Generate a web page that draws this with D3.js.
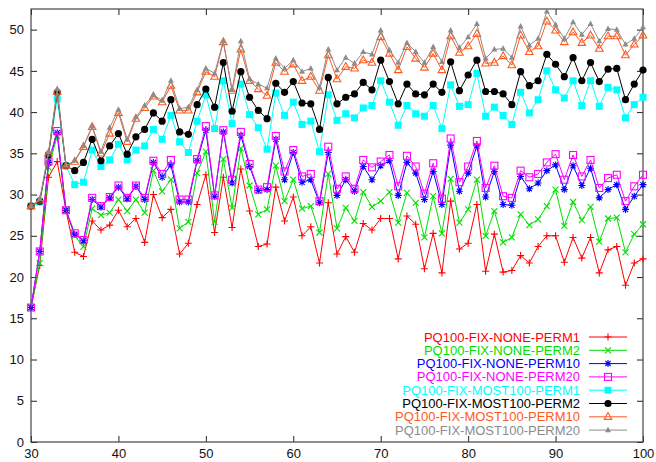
<!DOCTYPE html>
<html>
<head>
<meta charset="utf-8">
<script src="https://cdn.jsdelivr.net/npm/d3@7"></script>
<style>
  html, body { margin: 0; padding: 0; background: #fff; }
  svg { display: block; font-family: "Liberation Sans", Arial, sans-serif; }
  .axis text { font-size: 13px; fill: #111; }
  .axis line { stroke: #222; }
</style>
</head>
<body>
<div id="chart"></div>
<script>
// Eight permutation runs over x = 30..100, gnuplot-style linespoints.
const xs = [30, 31, 32, 33, 34, 35, 36, 37, 38, 39, 40, 41, 42, 43, 44, 45, 46, 47, 48, 49,
  50, 51, 52, 53, 54, 55, 56, 57, 58, 59, 60, 61, 62, 63, 64, 65, 66, 67, 68, 69,
  70, 71, 72, 73, 74, 75, 76, 77, 78, 79, 80, 81, 82, 83, 84, 85, 86, 87, 88, 89,
  90, 91, 92, 93, 94, 95, 96, 97, 98, 99, 100];

const noneP1 = [16.3, 21.4, 32.1, 34.0, 28.1, 23.0, 22.5, 26.8, 25.7, 26.3, 28.1, 26.1, 27.1, 24.2, 30.0, 27.2, 28.2, 22.8, 24.1, 28.8,
  32.4, 25.4, 32.1, 26.0, 33.1, 28.0, 23.7, 24.0, 30.9, 26.8, 29.7, 25.0, 26.1, 21.7, 29.0, 22.8, 24.9, 23.0, 26.5, 25.7,
  27.1, 27.1, 22.2, 27.4, 26.4, 21.0, 25.3, 20.5, 29.2, 23.4, 24.1, 28.8, 20.7, 25.2, 20.6, 20.8, 22.6, 21.7, 23.7, 25.0,
  25.0, 21.8, 24.8, 22.3, 24.8, 20.5, 23.3, 23.7, 19.0, 21.7, 22.2];
const noneP2 = [16.3, 21.7, 33.3, 37.1, 28.1, 25.0, 23.7, 28.3, 27.5, 27.8, 29.4, 28.0, 29.4, 27.8, 32.9, 30.4, 31.8, 25.9, 26.7, 32.6,
  35.2, 26.7, 34.3, 28.4, 35.6, 31.1, 27.6, 28.2, 33.5, 29.2, 31.8, 28.3, 28.6, 25.4, 32.5, 25.9, 28.4, 26.8, 30.3, 28.5,
  29.2, 30.3, 26.6, 30.2, 29.0, 24.8, 29.8, 25.3, 31.9, 26.6, 28.2, 31.8, 25.0, 28.0, 24.2, 24.8, 27.6, 26.3, 27.0, 28.6,
  30.6, 26.2, 29.1, 26.9, 28.5, 24.3, 27.1, 27.2, 23.0, 25.2, 26.4];
const noneP10 = [16.3, 23.1, 33.9, 37.5, 28.1, 25.2, 24.4, 29.4, 28.5, 29.6, 30.9, 29.5, 31.0, 29.4, 33.9, 32.1, 33.6, 29.1, 29.1, 34.1,
  37.8, 29.8, 37.6, 31.4, 37.2, 33.4, 30.5, 30.6, 36.7, 31.8, 35.1, 31.5, 31.8, 29.0, 35.1, 29.9, 31.8, 30.4, 33.4, 31.8,
  33.5, 34.1, 29.9, 33.9, 32.6, 29.4, 32.8, 28.8, 36.0, 30.4, 32.6, 35.9, 29.7, 32.8, 28.8, 28.7, 32.2, 30.7, 31.4, 32.9,
  33.6, 30.6, 33.5, 31.1, 33.2, 29.6, 30.6, 31.2, 28.2, 29.8, 31.2];
const noneP20 = [16.3, 23.1, 34.0, 37.7, 28.1, 25.3, 24.5, 29.6, 28.6, 29.7, 31.1, 29.6, 31.1, 29.6, 34.1, 32.5, 34.2, 29.4, 29.4, 34.3,
  38.3, 29.9, 37.8, 31.8, 37.6, 33.7, 30.6, 30.9, 37.1, 32.8, 35.4, 32.2, 32.5, 29.2, 35.8, 30.7, 32.2, 30.7, 34.2, 33.3,
  34.0, 34.8, 31.0, 34.7, 33.4, 30.1, 33.8, 29.5, 36.8, 31.5, 33.4, 36.5, 30.8, 33.5, 29.8, 29.6, 32.9, 32.1, 32.5, 33.9,
  34.9, 31.8, 34.8, 32.2, 34.2, 30.8, 32.0, 32.4, 29.2, 31.0, 32.4];
const mostP1 = [28.6, 29.1, 34.8, 41.6, 33.5, 31.2, 31.5, 35.4, 33.4, 34.2, 36.1, 34.2, 35.4, 35.9, 37.9, 36.7, 39.6, 36.4, 35.1, 38.9,
  42.1, 38.0, 43.8, 38.6, 43.4, 39.7, 38.1, 35.5, 42.3, 39.6, 41.2, 38.5, 38.9, 35.2, 42.1, 39.0, 39.8, 39.3, 40.5, 40.8,
  43.8, 41.2, 38.4, 40.8, 39.8, 39.5, 40.8, 38.0, 43.3, 40.7, 40.9, 44.7, 39.5, 40.6, 39.6, 38.5, 42.4, 39.9, 41.5, 45.0,
  42.7, 41.7, 43.8, 40.8, 43.8, 40.7, 43.0, 42.7, 39.3, 40.9, 41.8];
const mostP2 = [28.6, 29.2, 34.8, 42.4, 33.5, 32.9, 33.9, 36.7, 34.1, 35.9, 37.4, 34.9, 37.0, 37.9, 39.9, 38.9, 41.5, 37.6, 37.3, 40.9,
  42.8, 40.6, 46.0, 40.1, 44.9, 41.8, 40.2, 39.2, 43.5, 42.4, 43.7, 41.1, 41.0, 37.9, 44.2, 41.0, 41.8, 42.2, 43.6, 42.7,
  46.3, 43.7, 41.0, 43.4, 42.2, 42.1, 43.4, 42.4, 46.1, 42.6, 44.5, 46.3, 42.5, 42.5, 42.2, 40.9, 44.9, 43.2, 43.8, 47.0,
  45.8, 44.3, 46.6, 43.8, 46.0, 43.7, 45.2, 45.3, 41.5, 43.4, 45.1];
const mostP10 = [28.6, 29.3, 35.0, 42.5, 33.5, 34.0, 35.8, 38.2, 35.0, 37.4, 39.9, 36.4, 39.2, 40.5, 41.9, 41.2, 43.2, 40.2, 40.2, 42.4,
  44.9, 44.3, 48.5, 42.6, 47.6, 43.8, 42.8, 42.0, 46.0, 44.9, 45.8, 43.8, 44.3, 42.6, 46.9, 44.0, 45.5, 45.3, 46.3, 46.0,
  49.1, 47.1, 45.1, 47.9, 46.5, 45.4, 47.1, 45.1, 49.2, 47.2, 48.0, 49.5, 45.9, 46.0, 46.8, 45.7, 49.3, 47.3, 48.0, 51.0,
  49.9, 48.5, 49.7, 48.4, 49.3, 47.7, 49.2, 49.2, 46.9, 48.2, 49.3];
const mostP20 = [28.6, 29.4, 35.1, 42.8, 33.5, 34.1, 35.9, 38.3, 35.2, 38.1, 40.3, 36.7, 39.4, 40.8, 42.1, 41.4, 43.8, 40.4, 40.6, 42.7,
  45.3, 44.7, 48.6, 42.7, 48.6, 44.0, 43.4, 42.9, 46.5, 45.3, 46.3, 44.9, 45.3, 43.0, 47.6, 45.1, 46.6, 45.9, 47.3, 47.0,
  49.9, 47.5, 46.0, 48.4, 47.3, 46.0, 47.9, 46.1, 49.9, 47.8, 49.1, 50.7, 46.5, 47.6, 47.7, 46.6, 50.4, 48.1, 48.9, 52.2,
  50.6, 48.9, 50.9, 49.4, 50.7, 48.6, 50.1, 50.0, 48.2, 48.9, 50.3];

const seriesLabels = ['PQ100-FIX-NONE-PERM1', 'PQ100-FIX-NONE-PERM2', 'PQ100-FIX-NONE-PERM10', 'PQ100-FIX-NONE-PERM20',
  'PQ100-FIX-MOST100-PERM1', 'PQ100-FIX-MOST100-PERM2', 'PQ100-FIX-MOST100-PERM10', 'PQ100-FIX-MOST100-PERM20'];
const xTicks = [30, 40, 50, 60, 70, 80, 90, 100];
const yTicks = [0, 5, 10, 15, 20, 25, 30, 35, 40, 45, 50];

// style table: colour + gnuplot point type
const series = [
  { values: noneP1, color: '#ff0000', pt: 'plus' },
  { values: noneP2, color: '#00e000', pt: 'cross' },
  { values: noneP10, color: '#0000ff', pt: 'star' },
  { values: noneP20, color: '#ff00ff', pt: 'box' },
  { values: mostP1, color: '#00ffff', pt: 'fbox' },
  { values: mostP2, color: '#000000', pt: 'fcircle' },
  { values: mostP10, color: '#ff5a1e', pt: 'tri' },
  { values: mostP20, color: '#8c8c8c', pt: 'ftri' },
].map((s, i) => ({ ...s, label: seriesLabels[i] }));

const width = 656, height = 462;
const plot = { left: 31, right: 643, top: 9, bottom: 442 };

const svg = d3.select('#chart').append('svg')
  .attr('width', width).attr('height', height);

const x = d3.scaleLinear().domain([30, 100]).range([plot.left, plot.right]);
const y = d3.scaleLinear().domain([0, 52.5]).range([plot.bottom, plot.top]);

// axes, ticks pointing inward, mirrored on top/right
svg.append('g').attr('class', 'axis')
  .attr('transform', `translate(0,${plot.bottom})`)
  .call(d3.axisBottom(x).tickValues(xTicks).tickSizeInner(-6).tickSizeOuter(0).tickPadding(7))
  .call(g => g.select('.domain').remove());
svg.append('g').attr('class', 'axis')
  .attr('transform', `translate(0,${plot.top})`)
  .call(d3.axisTop(x).tickValues(xTicks).tickSizeInner(-6).tickSizeOuter(0).tickFormat(''))
  .call(g => g.select('.domain').remove());
svg.append('g').attr('class', 'axis')
  .attr('transform', `translate(${plot.left},0)`)
  .call(d3.axisLeft(y).tickValues(yTicks).tickSizeInner(-6).tickSizeOuter(0).tickPadding(7))
  .call(g => g.select('.domain').remove());
svg.append('g').attr('class', 'axis')
  .attr('transform', `translate(${plot.right},0)`)
  .call(d3.axisRight(y).tickValues(yTicks).tickSizeInner(-6).tickSizeOuter(0).tickFormat(''))
  .call(g => g.select('.domain').remove());

svg.append('rect')
  .attr('x', plot.left).attr('y', plot.top)
  .attr('width', plot.right - plot.left).attr('height', plot.bottom - plot.top)
  .attr('fill', 'none').attr('stroke', '#444').attr('stroke-width', 1.2);

// point glyphs
function drawPoint(sel, pt, color) {
  const stroke = (p, d) => p.append('path').attr('d', d).attr('fill', 'none')
    .attr('stroke', color).attr('stroke-width', 1.1);
  if (pt === 'plus') stroke(sel, 'M-3.5,0H3.5M0,-3.5V3.5');
  else if (pt === 'cross') stroke(sel, 'M-3,-3L3,3M-3,3L3,-3');
  else if (pt === 'star') stroke(sel, 'M-3.5,0H3.5M0,-3.5V3.5M-2.6,-2.6L2.6,2.6M-2.6,2.6L2.6,-2.6');
  else if (pt === 'box') sel.append('rect').attr('x', -3.5).attr('y', -3.5).attr('width', 7).attr('height', 7)
    .attr('fill', 'none').attr('stroke', color).attr('stroke-width', 1.1);
  else if (pt === 'fbox') sel.append('rect').attr('x', -3.5).attr('y', -3.5).attr('width', 7).attr('height', 7)
    .attr('fill', color);
  else if (pt === 'fcircle') sel.append('circle').attr('r', 3.6).attr('fill', color);
  else if (pt === 'tri') stroke(sel, 'M0,-4.2L3.8,2.6L-3.8,2.6Z');
  else if (pt === 'ftri') sel.append('path').attr('d', 'M0,-3.4L3,2.1L-3,2.1Z').attr('fill', color);
}

const line = d3.line().x((d, i) => x(xs[i])).y(d => y(d));

const layer = svg.append('g');
series.forEach(s => {
  const g = layer.append('g');
  g.append('path').attr('d', line(s.values))
    .attr('fill', 'none').attr('stroke', s.color).attr('stroke-width', 1);
  s.values.forEach((v, i) => {
    drawPoint(g.append('g').attr('transform', `translate(${x(xs[i])},${y(v)})`), s.pt, s.color);
  });
});

// key, bottom right
const key = svg.append('g');
series.forEach((s, i) => {
  const cy = 337 + i * 13.3;
  key.append('text')
    .attr('x', 580).attr('y', cy).attr('dy', '0.35em')
    .attr('text-anchor', 'end').attr('font-size', 13)
    .attr('fill', s.color).text(s.label);
  key.append('line')
    .attr('x1', 589).attr('x2', 627).attr('y1', cy).attr('y2', cy)
    .attr('stroke', s.color).attr('stroke-width', 1);
  drawPoint(key.append('g').attr('transform', `translate(608,${cy})`), s.pt, s.color);
});
</script>
</body>
</html>
